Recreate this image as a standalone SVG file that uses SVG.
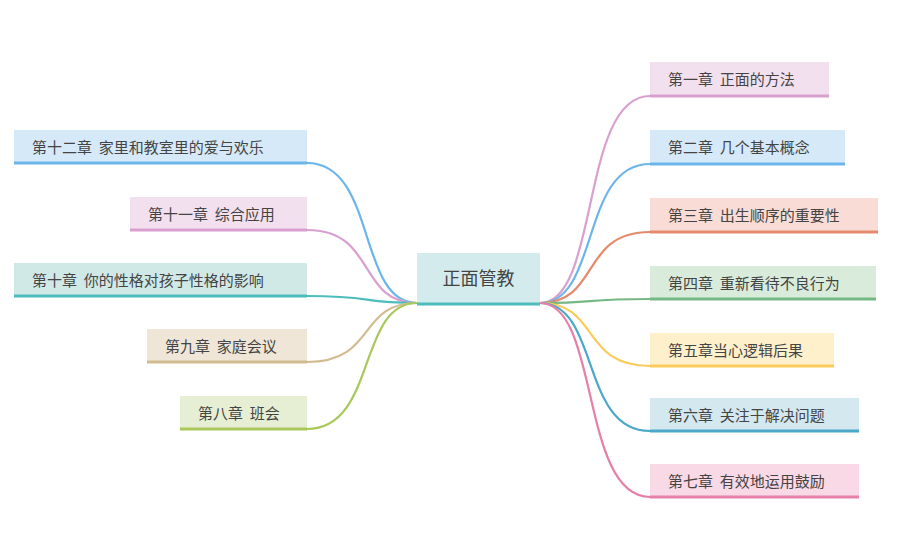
<svg xmlns="http://www.w3.org/2000/svg" width="900" height="557" viewBox="0 0 900 557">
<style>
text{font-family:"Noto Sans CJK SC","Noto Sans",sans-serif;font-size:15px;fill:#444;dominant-baseline:central;white-space:pre}
.c path{fill:none;stroke-width:2.2}
</style>
<rect width="900" height="557" fill="#fff"/>
<g class="c">
<path d="M540,303 C600,303 580,96 650,96" stroke="#d9a0cf"/>
<path d="M540,303 C600,303 580,164 650,164" stroke="#6cb5ea"/>
<path d="M540,303 C600,303 580,232 650,232" stroke="#e58a6c"/>
<path d="M540,303 C600,303 580,299 650,299" stroke="#76b884"/>
<path d="M540,303 C600,303 580,366 650,366" stroke="#fbcb5a"/>
<path d="M540,303 C600,303 580,431 650,431" stroke="#4aa8c9"/>
<path d="M540,303 C600,303 580,497 650,497" stroke="#e680a8"/>
<path d="M417,303 C357,303 377,163 307,163" stroke="#6cb5ea"/>
<path d="M417,303 C357,303 377,230 307,230" stroke="#d9a0cf"/>
<path d="M417,303 C357,303 377,296 307,296" stroke="#4dbcbc"/>
<path d="M417,303 C357,303 377,362 307,362" stroke="#d2bb90"/>
<path d="M417,303 C357,303 377,429 307,429" stroke="#a8c95a"/>
</g>
<g id="root"><rect x="417" y="253" width="123" height="51" fill="#d3ebec"/><line x1="417" y1="304" x2="540" y2="304" stroke="#4dbcbc" stroke-width="3"/><text x="478.5" y="277" text-anchor="middle" style="font-size:18px">正面管教</text></g>
<g id="n1"><rect x="650" y="62" width="179" height="34" fill="#f3e0ef"/><line x1="650" y1="96" x2="829" y2="96" stroke="#d9a0cf" stroke-width="3"/><text x="668" y="78" xml:space="preserve">第一章  正面的方法</text></g>
<g id="n2"><rect x="650" y="130" width="195" height="34" fill="#d6e9f9"/><line x1="650" y1="164" x2="845" y2="164" stroke="#6cb5ea" stroke-width="3"/><text x="668" y="146" xml:space="preserve">第二章  几个基本概念</text></g>
<g id="n3"><rect x="650" y="198" width="228" height="34" fill="#f9dcd5"/><line x1="650" y1="232" x2="878" y2="232" stroke="#e58a6c" stroke-width="3"/><text x="668" y="214" xml:space="preserve">第三章  出生顺序的重要性</text></g>
<g id="n4"><rect x="650" y="266" width="226" height="33" fill="#d9ecdb"/><line x1="650" y1="299" x2="876" y2="299" stroke="#76b884" stroke-width="3"/><text x="668" y="282" xml:space="preserve">第四章  重新看待不良行为</text></g>
<g id="n5"><rect x="650" y="333" width="184" height="33" fill="#fff0cc"/><line x1="650" y1="366" x2="834" y2="366" stroke="#fbcb5a" stroke-width="3"/><text x="668" y="349">第五章当心逻辑后果</text></g>
<g id="n6"><rect x="650" y="398" width="209" height="33" fill="#d4e8f0"/><line x1="650" y1="431" x2="859" y2="431" stroke="#4aa8c9" stroke-width="3"/><text x="668" y="414" xml:space="preserve">第六章  关注于解决问题</text></g>
<g id="n7"><rect x="650" y="464" width="209" height="33" fill="#f9d9e6"/><line x1="650" y1="497" x2="859" y2="497" stroke="#e680a8" stroke-width="3"/><text x="668" y="480" xml:space="preserve">第七章  有效地运用鼓励</text></g>
<g id="n12"><rect x="14" y="130" width="293" height="33" fill="#d6e9f9"/><line x1="14" y1="163" x2="307" y2="163" stroke="#6cb5ea" stroke-width="3"/><text x="32" y="146" xml:space="preserve">第十二章  家里和教室里的爱与欢乐</text></g>
<g id="n11"><rect x="130" y="197" width="177" height="33" fill="#f3e0ef"/><line x1="130" y1="230" x2="307" y2="230" stroke="#d9a0cf" stroke-width="3"/><text x="148" y="213" xml:space="preserve">第十一章  综合应用</text></g>
<g id="n10"><rect x="14" y="263" width="293" height="33" fill="#d0e9e7"/><line x1="14" y1="296" x2="307" y2="296" stroke="#4dbcbc" stroke-width="3"/><text x="32" y="279" xml:space="preserve">第十章  你的性格对孩子性格的影响</text></g>
<g id="n9"><rect x="147" y="329" width="160" height="33" fill="#f0e6d8"/><line x1="147" y1="362" x2="307" y2="362" stroke="#d2bb90" stroke-width="3"/><text x="165" y="345" xml:space="preserve">第九章  家庭会议</text></g>
<g id="n8"><rect x="180" y="396" width="127" height="33" fill="#e6efd4"/><line x1="180" y1="429" x2="307" y2="429" stroke="#a8c95a" stroke-width="3"/><text x="198" y="412" xml:space="preserve">第八章  班会</text></g>
</svg>
